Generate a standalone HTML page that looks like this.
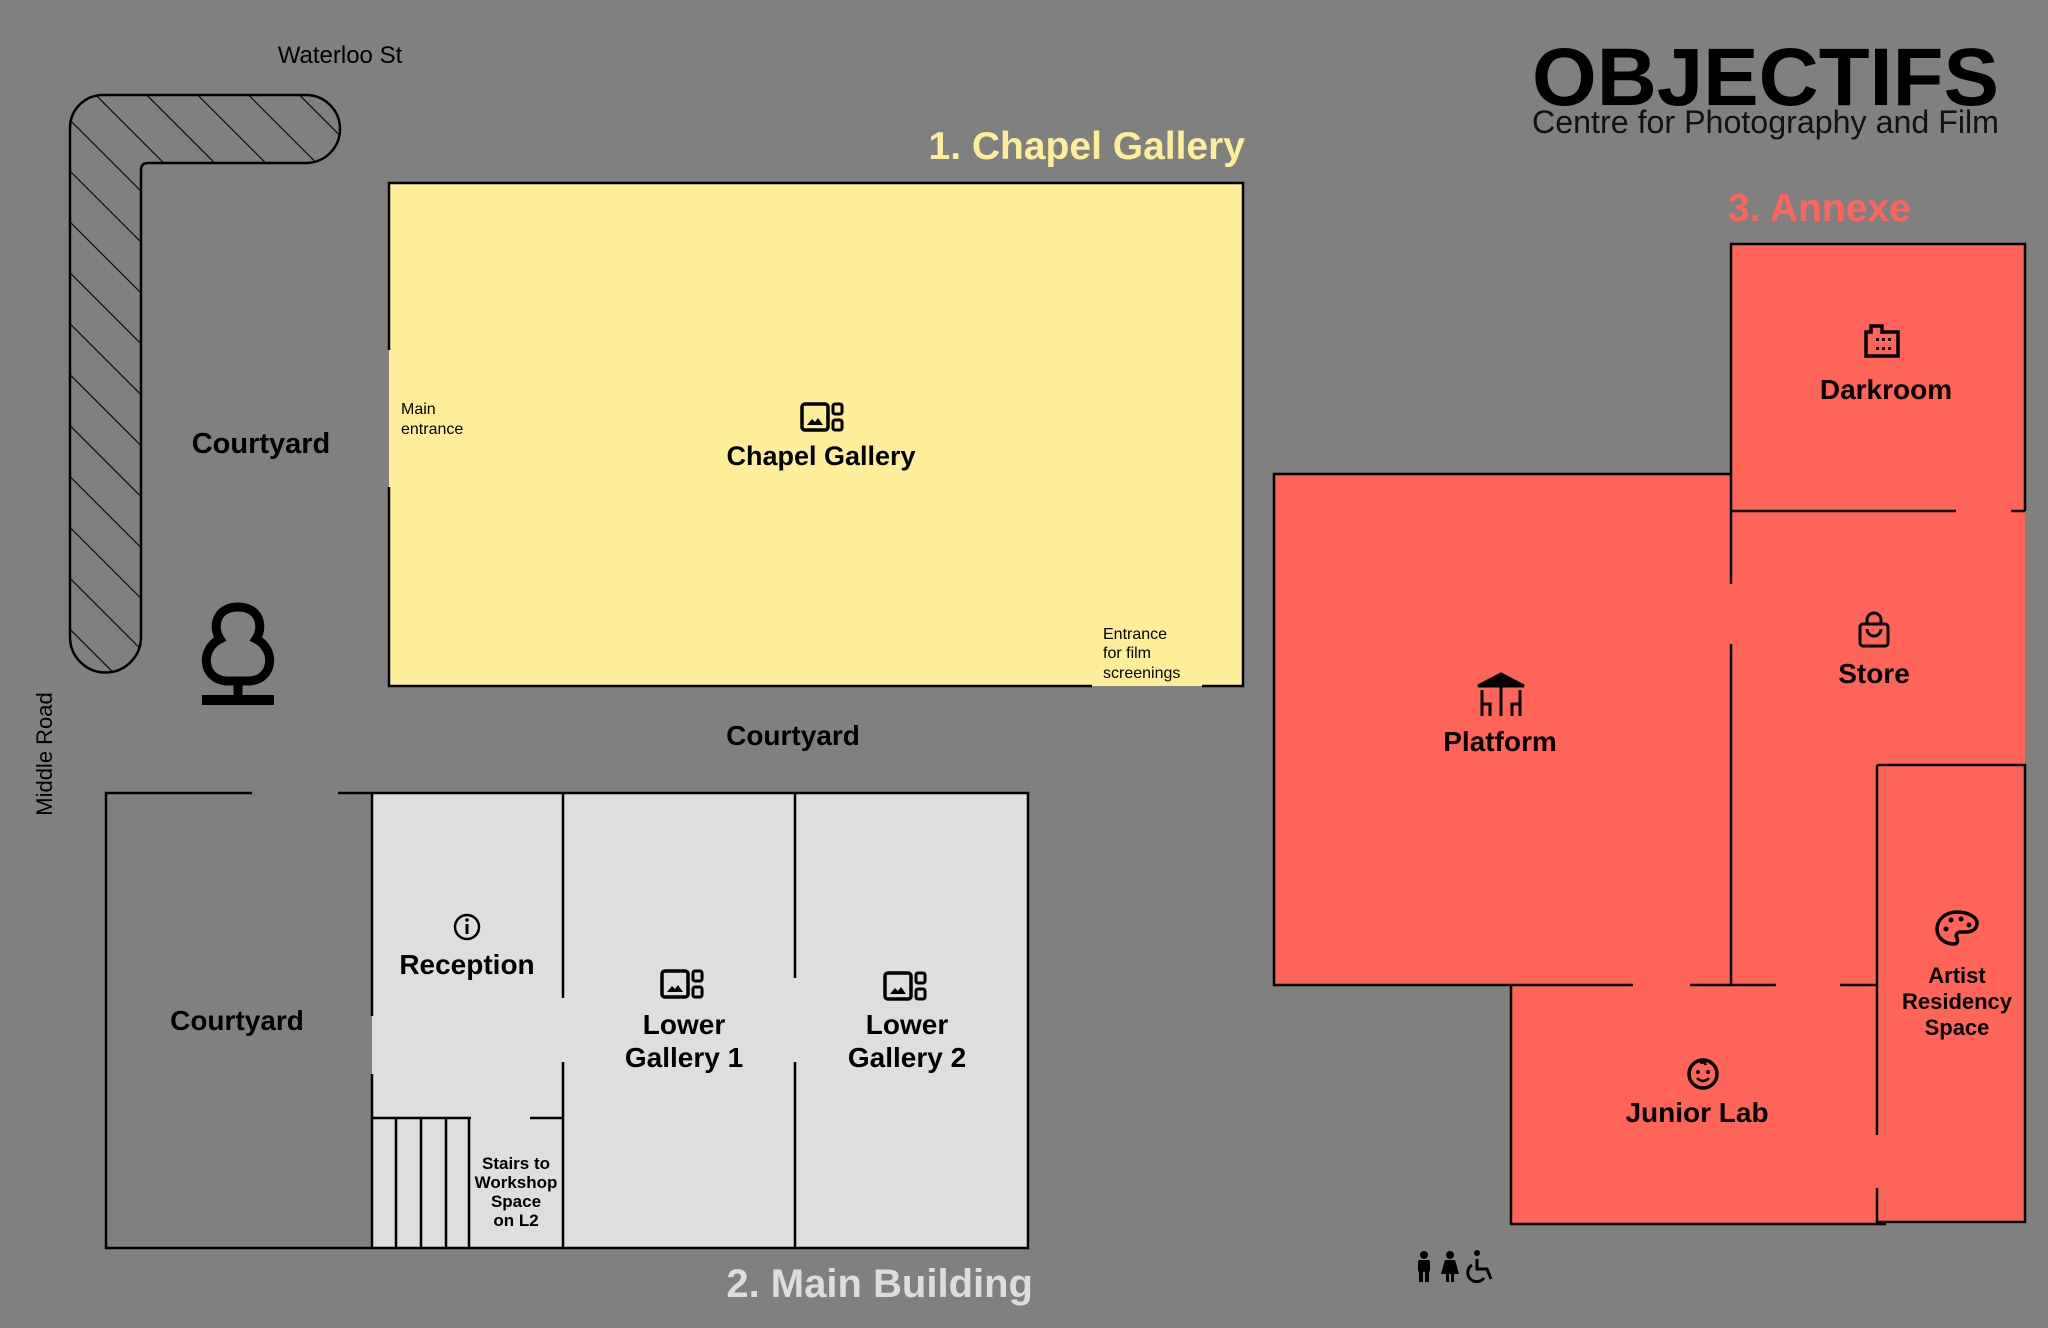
<!DOCTYPE html>
<html><head><meta charset="utf-8"><style>
html,body{margin:0;padding:0;background:#808080;}
svg{display:block;}
text{font-family:"Liberation Sans",Arial,sans-serif;}
.b{font-weight:bold;fill:#000;}
</style></head><body>
<svg width="2048" height="1328" viewBox="0 0 2048 1328" xmlns="http://www.w3.org/2000/svg">
<defs>
<pattern id="h" patternUnits="userSpaceOnUse" width="36" height="36" patternTransform="rotate(-45)">
<line x1="0" y1="0" x2="0" y2="36" stroke="#000" stroke-width="2.2"/>
</pattern>
<g id="gal">
<rect x="-22" y="-14" width="26" height="26" rx="3" fill="none" stroke="#000" stroke-width="3.5"/>
<path d="M-17 7 L-12 1 L-9 4 L-6 0 L-1 7 Z" fill="#000"/>
<rect x="9" y="-14" width="9" height="10" rx="2" fill="none" stroke="#000" stroke-width="3"/>
<rect x="9" y="2" width="9" height="10" rx="2" fill="none" stroke="#000" stroke-width="3"/>
</g>
</defs>
<rect width="2048" height="1328" fill="#808080"/>

<text x="340" y="63" font-size="24" text-anchor="middle" fill="#000">Waterloo St</text>
<path d="M103 95 H306 A34 34 0 0 1 340 129 A34 34 0 0 1 306 163 H148 Q141 163 141 170 V637 A35.5 35.5 0 0 1 70 637 V128 A33 33 0 0 1 103 95 Z" fill="url(#h)" stroke="#000" stroke-width="2.5"/>
<text class="b" x="261" y="453" font-size="29" text-anchor="middle">Courtyard</text>
<g stroke="#000" fill="none" stroke-width="9">
<path d="M238 612 C216 612 212 632 220 644 C200 654 202 684 226 686 L250 686 C274 684 276 654 256 644 C264 632 260 612 238 612 Z" transform="translate(0,-5)"/>
<line x1="238" y1="681" x2="238" y2="699"/>
</g>
<rect x="202" y="695" width="72" height="10" fill="#000"/>
<text x="52" y="754" font-size="22" text-anchor="middle" fill="#000" transform="rotate(-90 52 754)">Middle Road</text>

<text class="b" x="1245" y="159" font-size="39" text-anchor="end" style="fill:#ffee99">1. Chapel Gallery</text>
<rect x="389" y="183" width="854" height="503" fill="#ffee99"/>
<path d="M389 350 V183 H1243 V686 H1202 M1092 686 H389 V487" fill="none" stroke="#000" stroke-width="2.5"/>
<text x="401" y="414" font-size="16" fill="#000">Main</text>
<text x="401" y="434" font-size="16" fill="#000">entrance</text>
<use href="#gal" x="824" y="418"/>
<text class="b" x="821" y="465" font-size="27" text-anchor="middle">Chapel Gallery</text>
<text x="1103" y="639" font-size="16" fill="#000">Entrance</text>
<text x="1103" y="658" font-size="16" fill="#000">for film</text>
<text x="1103" y="678" font-size="16" fill="#000">screenings</text>
<text class="b" x="793" y="745" font-size="28" text-anchor="middle">Courtyard</text>

<rect x="372" y="793" width="656" height="455" fill="#dedede"/>
<g fill="none" stroke="#000" stroke-width="2.5">
<path d="M252 793 H106 V1248 H1028 V793 H338"/>
<path d="M372 793 V1016 M372 1074 V1248"/>
<path d="M563 793 V998 M563 1062 V1248"/>
<path d="M795 793 V978 M795 1062 V1248"/>
<path d="M372 1118 H471 M530 1118 H563"/>
<path d="M396 1118 V1248 M421 1118 V1248 M446 1118 V1248 M469 1118 V1248"/>
</g>
<text class="b" x="237" y="1030" font-size="28" text-anchor="middle">Courtyard</text>
<circle cx="467" cy="927" r="12" fill="none" stroke="#000" stroke-width="2.5"/>
<circle cx="467" cy="920" r="1.8" fill="#000"/>
<rect x="465.5" y="924" width="3" height="10" fill="#000"/>
<text class="b" x="467" y="974" font-size="28" text-anchor="middle">Reception</text>
<use href="#gal" x="684" y="985"/>
<text class="b" x="684" y="1034" font-size="28" text-anchor="middle">Lower</text>
<text class="b" x="684" y="1067" font-size="28" text-anchor="middle">Gallery 1</text>
<use href="#gal" x="907" y="987"/>
<text class="b" x="907" y="1034" font-size="28" text-anchor="middle">Lower</text>
<text class="b" x="907" y="1067" font-size="28" text-anchor="middle">Gallery 2</text>
<g class="b" font-size="17" text-anchor="middle">
<text x="516" y="1169">Stairs to</text>
<text x="516" y="1188">Workshop</text>
<text x="516" y="1207">Space</text>
<text x="516" y="1226">on L2</text>
</g>
<text class="b" x="1033" y="1297" font-size="40" text-anchor="end" style="fill:#dddddd">2. Main Building</text>

<text class="b" x="1532" y="105" font-size="82" textLength="467" lengthAdjust="spacingAndGlyphs" style="font-weight:900">OBJECTIFS</text>
<text x="1532" y="133" font-size="32" textLength="467" lengthAdjust="spacingAndGlyphs" fill="#111">Centre for Photography and Film</text>

<text class="b" x="1728" y="221" font-size="39" style="fill:#ff6659">3. Annexe</text>
<g fill="#ff6459">
<rect x="1731" y="244" width="294" height="521"/>
<rect x="1274" y="474" width="457" height="511"/>
<rect x="1511" y="765" width="514" height="459"/>
</g>
<g fill="none" stroke="#000" stroke-width="2.5">
<path d="M1731 474 V244 H2025 V511"/>
<path d="M1731 511 H1956 M2011 511 H2025"/>
<path d="M1731 474 H1274 V985 H1633 M1690 985 H1776 M1840 985 H1877"/>
<path d="M1731 474 V584 M1731 644 V985"/>
<path d="M1877 765 H2025 V1222 H1877 M1877 765 V1135 M1877 1188 V1224"/>
<path d="M1511 985 V1224 H1886"/>
</g>
<g fill="none" stroke="#000" stroke-width="3.5">
<path d="M1866 332 h5 v-6 h11 v6 h16 v24 h-32 z"/>
</g>
<g fill="#000"><rect x="1876" y="338" width="3" height="3"/><rect x="1882" y="338" width="3" height="3"/><rect x="1888" y="338" width="3" height="3"/><rect x="1876" y="347" width="3" height="3"/><rect x="1882" y="347" width="3" height="3"/><rect x="1888" y="347" width="3" height="3"/></g>
<text class="b" x="1886" y="399" font-size="28" text-anchor="middle">Darkroom</text>
<g fill="none" stroke="#000" stroke-width="3">
<rect x="1860" y="624" width="28" height="22" rx="3"/>
<path d="M1867 624 v-4 a7 7 0 0 1 14 0 v4 M1867 629 a7 7 0 0 0 14 0"/>
</g>
<text class="b" x="1874" y="683" font-size="28" text-anchor="middle">Store</text>
<g stroke="#000" stroke-width="3" fill="none">
<path d="M1478 686 L1501 674 L1524 686 Z" fill="#000"/>
<path d="M1482 716 v-26 M1482 704 h8 v12 M1501 686 v30 M1520 716 v-26 M1520 704 h-8 v12"/>
</g>
<text class="b" x="1500" y="751" font-size="28" text-anchor="middle">Platform</text>
<path d="M1957 912 c-12 0 -20 8 -20 17 c0 9 8 15 17 15 c4 0 4 -4 3 -6 c-2 -3 0 -6 4 -6 h5 c6 0 11 -3 11 -9 c0 -6 -9 -11 -20 -11 z" fill="none" stroke="#000" stroke-width="3.5"/>
<g fill="#000"><circle cx="1946" cy="929" r="2.5"/><circle cx="1951" cy="920" r="2.5"/><circle cx="1961" cy="919" r="2.5"/><circle cx="1969" cy="925" r="2.5"/></g>
<g class="b" font-size="22" text-anchor="middle">
<text x="1957" y="983">Artist</text>
<text x="1957" y="1009">Residency</text>
<text x="1957" y="1035">Space</text>
</g>
<circle cx="1703" cy="1074" r="14" fill="none" stroke="#000" stroke-width="3.5"/>
<g fill="#000"><circle cx="1698" cy="1072" r="2"/><circle cx="1708" cy="1072" r="2"/></g>
<path d="M1697 1078 q6 6 12 0" stroke="#000" stroke-width="2.5" fill="none"/>
<path d="M1700 1063 q4 -2 6 2" stroke="#000" stroke-width="2.5" fill="none"/>
<text class="b" x="1697" y="1122" font-size="28" text-anchor="middle">Junior Lab</text>

<g fill="#000">
<circle cx="1424" cy="1255" r="4"/><rect x="1418" y="1260" width="12" height="12" rx="2"/><rect x="1419" y="1270" width="4" height="12"/><rect x="1425" y="1270" width="4" height="12"/>
<circle cx="1450" cy="1255" r="4"/><path d="M1445 1260 h10 l4 14 h-18 z"/><rect x="1446" y="1273" width="3" height="9"/><rect x="1451" y="1273" width="3" height="9"/>
</g>
<g fill="none" stroke="#000" stroke-width="3">
<circle cx="1477" cy="1253" r="3" fill="#000" stroke="none"/>
<path d="M1477 1259 v10 h10 l4 10"/>
<path d="M1472 1265 a9 9 0 1 0 12 13"/>
</g>
</svg>
</body></html>
